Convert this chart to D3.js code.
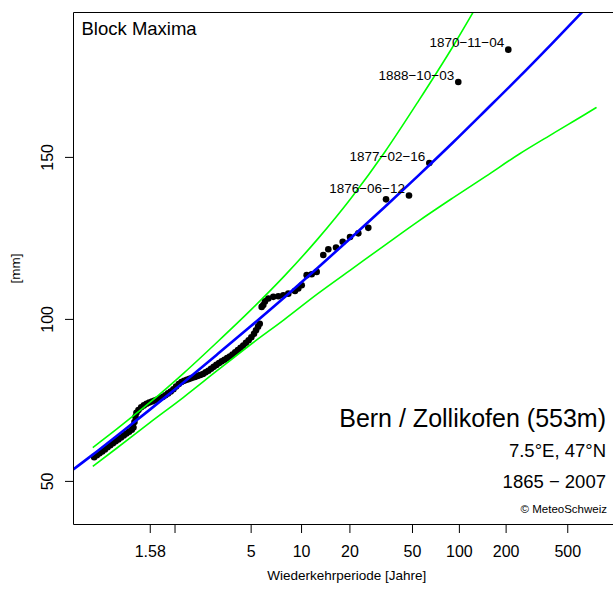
<!DOCTYPE html>
<html><head><meta charset="utf-8">
<script src="https://cdn.jsdelivr.net/npm/d3@7"></script>
<style>
body{margin:0;background:#fff}
svg{display:block}
text{font-family:"Liberation Sans", Arial, Helvetica, sans-serif; fill:#000}
</style>
</head><body>
<svg id="c" width="613" height="592"></svg>
<script>
// ---- data ----
const tickPeriods = [1.58, 2, 5, 10, 20, 50, 100, 200, 500];
const tickLabels  = ["1.58", "", "5", "10", "20", "50", "100", "200", "500"];
const yTicks = [50, 100, 150];

// observed block maxima: return period [years] and value [mm]
const obsPeriods = [1.1123,1.1241,1.1369,1.1505,1.1651,1.1806,1.1971,1.2146,1.2332,1.2530,
  1.2738,1.2959,1.3192,1.3437,1.3696,1.3864,1.3968,1.4073,1.4181,1.4402,
  1.4710,1.5034,1.5372,1.5728,1.6101,1.6491,1.6900,1.7327,1.7774,1.8241,
  1.8730,1.9240,1.9773,2.0330,2.0911,2.1518,2.2151,2.2811,2.3500,2.4218,
  2.4967,2.5748,2.6562,2.7411,2.8295,2.9217,3.0178,3.1179,3.2221,3.3308,
  3.4439,3.5618,3.6846,3.8124,3.9456,4.0843,4.2287,4.3790,4.5356,4.6987,
  4.8684,5.0452,5.2292,5.3722,5.5195,5.6458,5.7963,5.9241,6.0607,6.3445,
  6.7911,7.279,7.798,8.357,9.181,9.616,10.092,10.827,11.631,12.485,
  13.718,14.747,16.486,18.149,20.178,22.770,26.328,34.13,47.84,64.57,
  99.1,208.1];
const obsValues = [57.3,57.9,58.5,59.1,59.7,60.4,61.0,61.6,62.2,62.8,
  63.4,64.0,64.6,65.2,65.8,66.5,68.2,69.8,71.0,71.9,
  72.7,73.3,73.8,74.2,74.5,74.8,75.1,75.5,75.9,76.4,
  77.0,77.6,78.3,79.1,79.9,80.5,80.9,81.2,81.5,81.8,
  82.1,82.4,82.7,83.0,83.5,84.0,84.6,85.2,85.8,86.4,
  86.9,87.4,87.9,88.4,89.0,89.7,90.4,91.1,91.8,92.6,
  93.4,94.3,95.4,96.5,97.6,98.5,103.7,104.3,105.4,106.3,
  106.8,107.0,107.3,107.8,108.6,109.4,110.4,113.5,113.8,114.5,
  119.7,121.5,122.0,123.8,125.3,126.4,128.1,136.9,138.1,148.1,
  173.1,183.1];

// labelled events
const eventDates   = ["1870\u221211\u221204", "1888\u221210\u221203", "1877\u221202\u221216", "1876\u221206\u221212"];
const eventPeriods = [208.1, 99.1, 64.57, 47.84];
const eventValues  = [183.1, 173.1, 148.1, 138.1];

// fitted return level curve (blue)
const fitPeriods = [1.0375,1.1066,1.2381,1.5820,2.1989,3.2489,5.0008,7.9002,12.689,20.588,33.62,55.10,90.52,148.9,245.2,403.9,665.7,1097.2];
const fitValues  = [52.6,58.1,63.8,72.0,80.4,89.0,97.7,106.6,115.8,125.1,134.6,144.3,154.2,164.4,174.7,185.3,196.1,207.1];

// confidence band (green)
const upperPeriods = [1.1066,1.2381,1.5820,2.1989,3.2489,5.0008,7.9002,12.689,20.588,33.62,55.10,90.52,148.9];
const upperValues  = [60.3,65.9,74.2,83.2,92.8,102.7,113.2,124.7,137.4,151.6,167.3,183.7,201.4];
const lowerPeriods = [1.1066,1.2381,1.5820,2.1989,3.2489,5.0008,7.9002,12.689,20.588,33.62,55.10,90.52,148.9,245.2,403.9,665.7,773.0];
const lowerValues  = [54.5,60.0,68.0,75.8,84.0,92.1,99.8,107.8,115.3,122.8,130.2,137.2,144.0,150.9,157.2,163.4,165.3];

// ---- layout ----
const L = 73.5, R = 620, T = 12.5, B = 524.5;
const svg = d3.select("#c");

// Gumbel reduced variate for a return period
const gumbel = p => -Math.log(-Math.log(1 - 1 / p));
const xr = d3.scaleLinear().domain([-1.1374, 6.9987]).range([L, R]);
const x = p => xr(gumbel(p));
const y = d3.scaleLinear().domain([36.54, 194.57]).range([B, T]);

svg.append("defs").append("clipPath").attr("id", "clip")
  .append("rect").attr("x", L).attr("y", T).attr("width", R - L).attr("height", B - T);

const plot = svg.append("g").attr("clip-path", "url(#clip)");

// points
plot.selectAll("circle.obs").data(obsPeriods).join("circle")
  .attr("class", "obs")
  .attr("cx", (d) => x(d))
  .attr("cy", (d, i) => y(obsValues[i]))
  .attr("r", 3.3)
  .attr("fill", "#000");

const line = (ps, vs) => d3.line().curve(d3.curveMonotoneX)
  .x(d => x(d)).y((d, i) => y(vs[i]))(ps);

plot.append("path").attr("d", line(upperPeriods, upperValues))
  .attr("fill", "none").attr("stroke", "#00FF00").attr("stroke-width", 1.6);
plot.append("path").attr("d", line(lowerPeriods, lowerValues))
  .attr("fill", "none").attr("stroke", "#00FF00").attr("stroke-width", 1.6);
plot.append("path").attr("d", line(fitPeriods, fitValues))
  .attr("fill", "none").attr("stroke", "#0000FF").attr("stroke-width", 2.6);

// event labels
svg.selectAll("text.ev").data(eventDates).join("text")
  .attr("class", "ev")
  .attr("x", (d, i) => x(eventPeriods[i]) - 4)
  .attr("y", (d, i) => y(eventValues[i]) - 2.5)
  .attr("text-anchor", "end")
  .style("font-size", "13.5px")
  .text(d => d);

// box (right side lies outside the picture)
svg.append("path")
  .attr("d", `M${R},${T}H${L}V${B}H${R}`)
  .attr("fill", "none").attr("stroke", "#000").attr("stroke-width", 1);

// x axis
const xAxis = d3.axisBottom(xr)
  .tickValues(tickPeriods.map(gumbel))
  .tickFormat((d, i) => tickLabels[i])
  .tickSize(8.5);
const gx = svg.append("g").attr("transform", `translate(0,${B})`).call(xAxis);
gx.select(".domain").remove();
gx.selectAll("line").attr("stroke", "#000");
gx.selectAll("text").attr("y", 32).attr("dy", 0)
  .style("font-size", "16px").style("font-family", "'Liberation Sans', Arial, sans-serif");

// y axis
const yAxis = d3.axisLeft(y).tickValues(yTicks).tickFormat(d3.format("d")).tickSize(8.5);
const gy = svg.append("g").attr("transform", `translate(${L},0)`).call(yAxis);
gy.select(".domain").remove();
gy.selectAll("line").attr("stroke", "#000");
gy.selectAll("text")
  .attr("transform", "rotate(-90)")
  .attr("x", 0).attr("y", -21).attr("dy", 0)
  .attr("text-anchor", "middle")
  .style("font-size", "16px").style("font-family", "'Liberation Sans', Arial, sans-serif");

// axis titles
svg.append("text").attr("x", (L + R) / 2).attr("y", 580)
  .attr("text-anchor", "middle").style("font-size", "13.5px")
  .text("Wiederkehrperiode [Jahre]");
svg.append("text").attr("transform", `translate(20,${(T + B) / 2}) rotate(-90)`)
  .attr("text-anchor", "middle").style("font-size", "13.5px")
  .text("[mm]");

// annotations
svg.append("text").attr("x", 81.5).attr("y", 35).style("font-size", "18.5px").text("Block Maxima");
svg.append("text").attr("x", 606).attr("y", 427).attr("text-anchor", "end").style("font-size", "25px")
  .text("Bern / Zollikofen (553m)");
svg.append("text").attr("x", 606).attr("y", 457).attr("text-anchor", "end").style("font-size", "18.5px")
  .text("7.5°E, 47°N");
svg.append("text").attr("x", 606).attr("y", 488).attr("text-anchor", "end").style("font-size", "18.5px")
  .text("1865 \u2212 2007");
svg.append("text").attr("x", 607).attr("y", 513).attr("text-anchor", "end").style("font-size", "11.5px")
  .text("© MeteoSchweiz");
</script>
</body></html>
